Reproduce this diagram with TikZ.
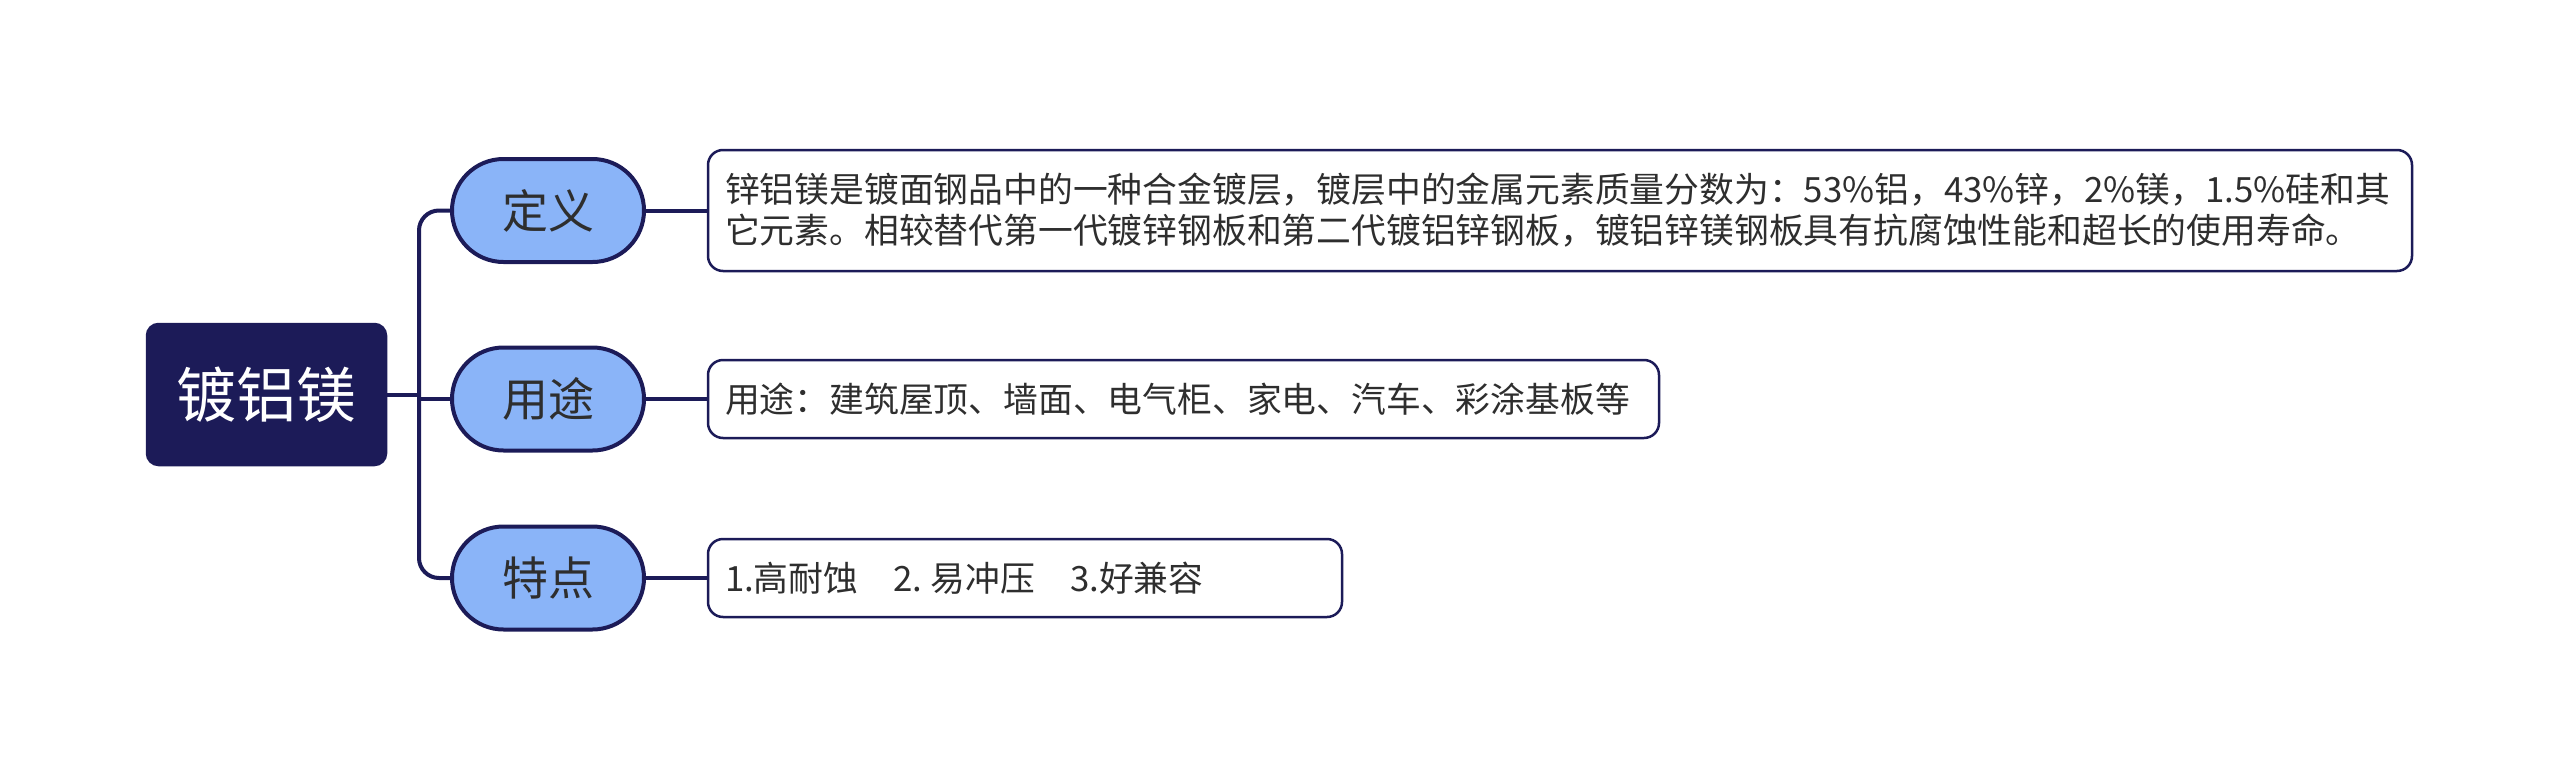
\documentclass[tikz,border=0pt]{standalone}
\usepackage{fontspec}
\setmainfont{Noto Sans CJK SC}
\newfontfamily\cjk{Noto Sans CJK SC}
\usetikzlibrary{shapes.misc}
\definecolor{navy}{HTML}{1C1B58}
\definecolor{bluefill}{HTML}{8AB4F8}
\definecolor{txt}{HTML}{2E2E2E}
\tikzset{
  rootbox/.style={draw=navy, fill=navy, line width=1.5pt, rounded corners=12pt,
    minimum width=240pt, minimum height=142pt, inner sep=0pt,
    text=white, font=\cjk\fontsize{60pt}{70pt}\selectfont},
  branchbox/.style={draw=navy, fill=bluefill, line width=4pt, rounded rectangle,
    minimum width=192pt, minimum height=103pt, inner sep=0pt,
    text=txt, font=\cjk\fontsize{46pt}{54pt}\selectfont},
  leafbox/.style={draw=navy, fill=white, line width=2.5pt, rounded corners=15pt,
    inner xsep=17pt, inner ysep=0pt, align=left, anchor=center,
    text=txt, font=\cjk\fontsize{34.8pt}{41pt}\selectfont},
  conn/.style={draw=navy, line width=4pt},
}
\begin{document}
\begin{tikzpicture}[x=1pt,y=-1pt]
\useasboundingbox (0,0) rectangle (2560,779);
\node[rootbox] (root) at (266.5,394.5) {镀铝镁};
\node[branchbox] (b1) at (548,210.5) {定义};
\node[branchbox] (b2) at (548,399) {用途};
\node[branchbox] (b3) at (548,578) {特点};
\node[leafbox, text width=1670pt, minimum height=121pt] (l1) at (1560,210.5)
  {锌铝镁是镀面钢品中的一种合金镀层，镀层中的金属元素质量分数为：53\%铝，43\%锌，2\%镁，1.5\%硅和其\\它元素。相较替代第一代镀锌钢板和第二代镀铝锌钢板，镀铝锌镁钢板具有抗腐蚀性能和超长的使用寿命。};
\node[leafbox, text width=917pt, minimum height=78pt] (l2) at (1183.5,399)
  {用途：建筑屋顶、墙面、电气柜、家电、汽车、彩涂基板等};
\node[leafbox, text width=600pt, minimum height=78pt] (l3) at (1025,578)
  {1.高耐蚀\hspace{1em}2.\hspace{0.25em}易冲压\hspace{1em}3.好兼容};
\coordinate (tr) at (419,394.5);
\draw[conn, rounded corners=20pt] (b1.west) -| (tr) |- (b3.west);
\draw[conn] (root.east) -- (tr);
\draw[conn] (b2.west) -- (b2.west -| tr);
\draw[conn] (b1.east) -- (l1.west);
\draw[conn] (b2.east) -- (l2.west);
\draw[conn] (b3.east) -- (l3.west);
\end{tikzpicture}
\end{document}
